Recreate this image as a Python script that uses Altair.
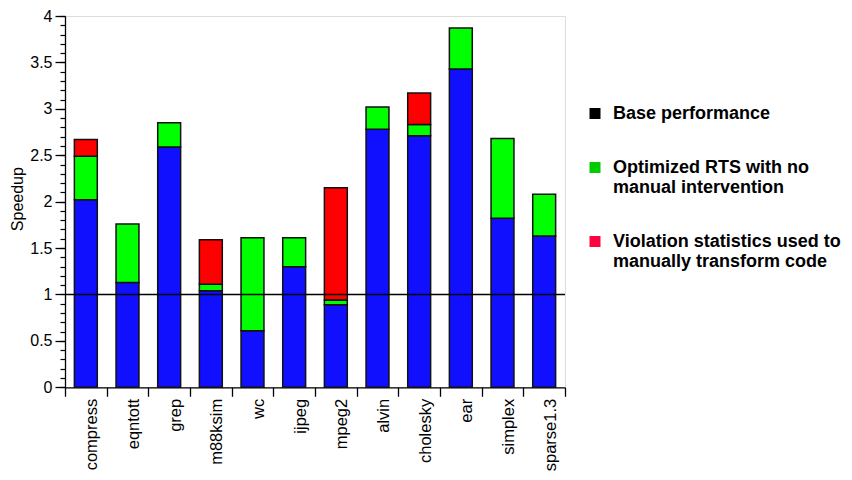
import altair as alt
import pandas as pd

# ---- data ----
benchmarks = ["compress", "eqntott", "grep", "m88ksim", "wc", "ijpeg",
              "mpeg2", "alvin", "cholesky", "ear", "simplex", "sparse1.3"]
base_perf = [2.02, 1.13, 2.59, 1.04, 0.61, 1.30, 0.89, 2.78, 2.71, 3.43, 1.82, 1.63]
rts_top = [2.49, 1.76, 2.85, 1.11, 1.61, 1.61, 0.94, 3.02, 2.83, 3.87, 2.68, 2.08]
manual_top = [2.67, None, None, 1.59, None, None, 2.15, None, 3.17, None, None, None]

series_labels = [
    "Base performance",
    "Optimized RTS with no\nmanual intervention",
    "Violation statistics used to\nmanually transform code",
]
bar_colors = ["#1010ff", "#00ff00", "#ff0000"]
legend_colors = ["#000000", "#00cc00", "#ff0040"]

major_ticks = [0, 0.5, 1, 1.5, 2, 2.5, 3, 3.5, 4]
minor_ticks = [0, 0.1, 0.2, 0.3, 0.4, 0.5, 0.6, 0.7, 0.8, 0.9,
               1, 1.1, 1.2, 1.3, 1.4, 1.5, 1.6, 1.7, 1.8, 1.9,
               2, 2.1, 2.2, 2.3, 2.4, 2.5, 2.6, 2.7, 2.8, 2.9,
               3, 3.1, 3.2, 3.3, 3.4, 3.5, 3.6, 3.7, 3.8, 3.9, 4]
baseline_value = [1.0]

# ---- build the long table of stacked segments ----
rows = []
for i, b in enumerate(benchmarks):
    rows.append({"bench": b, "segment": series_labels[0], "start": 0.0, "end": base_perf[i]})
    rows.append({"bench": b, "segment": series_labels[1], "start": base_perf[i], "end": rts_top[i]})
    if manual_top[i] is not None:
        rows.append({"bench": b, "segment": series_labels[2], "start": rts_top[i], "end": manual_top[i]})
df = pd.DataFrame(rows)
base_df = pd.DataFrame({"value": baseline_value})

FONT = "Liberation Sans"
PLOT_H = 371.3

x_enc = alt.X(
    "bench:N",
    sort=benchmarks,
    scale=alt.Scale(domain=benchmarks, paddingInner=0, paddingOuter=0),
    axis=alt.Axis(
        title=None, labelAngle=-90, tickBand="extent", tickSize=9,
        tickColor="black", tickWidth=1.3, domainColor="black", domainWidth=1.3,
        labelFont=FONT, labelFontSize=16.5, labelColor="black",
        labelPadding=2, labelOffset=6, grid=False,
    ),
)
y_scale = alt.Scale(domain=[0, 4], nice=False, zero=True)

bars = alt.Chart(df).mark_bar(
    width=alt.RelativeBandSize(0.55), stroke="#111111", strokeWidth=1.5
).encode(
    x=x_enc,
    y=alt.Y(
        "start:Q", scale=y_scale,
        axis=alt.Axis(
            values=major_ticks, format="~g", orient="left", tickSize=10,
            tickColor="black", tickWidth=1.3, domainColor="black", domainWidth=1.3,
            labelFont=FONT, labelFontSize=16, labelColor="black", labelPadding=3,
            grid=False, title="Speedup", titleFont=FONT, titleFontSize=16,
            titleFontWeight="normal", titleColor="black", titleAngle=270,
            titleX=-40, titleY=PLOT_H / 2 - 3, titleAlign="center", titleBaseline="bottom",
        ),
    ),
    y2="end:Q",
    color=alt.Color("segment:N", scale=alt.Scale(domain=series_labels, range=bar_colors), legend=None),
)

rule = alt.Chart(base_df).mark_rule(color="black", strokeWidth=1.5).encode(
    y=alt.Y(
        "value:Q", scale=y_scale,
        axis=alt.Axis(
            values=minor_ticks, labels=False, domain=False, orient="left",
            tickSize=5, tickColor="black", tickWidth=1.2, title=None, grid=False,
        ),
    )
)

legend_layer = alt.Chart(df).mark_point(shape="square", filled=True, opacity=0).encode(
    x=alt.X("bench:N", sort=benchmarks),
    y=alt.Y("end:Q", scale=y_scale, axis=None),
    color=alt.Color(
        "segment:N",
        scale=alt.Scale(domain=series_labels, range=legend_colors),
        legend=alt.Legend(
            orient="none", legendX=521, legendY=88.5, title=None,
            symbolType="square", symbolSize=121, symbolStrokeWidth=0, symbolOpacity=1,
            labelFont=FONT, labelFontSize=18, labelFontWeight="bold", labelColor="black",
            labelLimit=400, labelOffset=9, rowPadding=36, padding=0,
            labelExpr="split(datum.label, '\\n')",
        ),
    ),
)

chart = alt.layer(bars, rule, legend_layer).resolve_scale(
    color="independent"
).resolve_axis(
    y="independent"
).properties(
    width=500, height=PLOT_H,
    autosize=alt.AutoSizeParams(type="none"),
    padding={"left": 57, "top": 8, "right": 279, "bottom": 84.7},
).configure_view(stroke=None).configure(background="white")

chart.save("out.html", embed_options={"renderer": "svg", "actions": False})
